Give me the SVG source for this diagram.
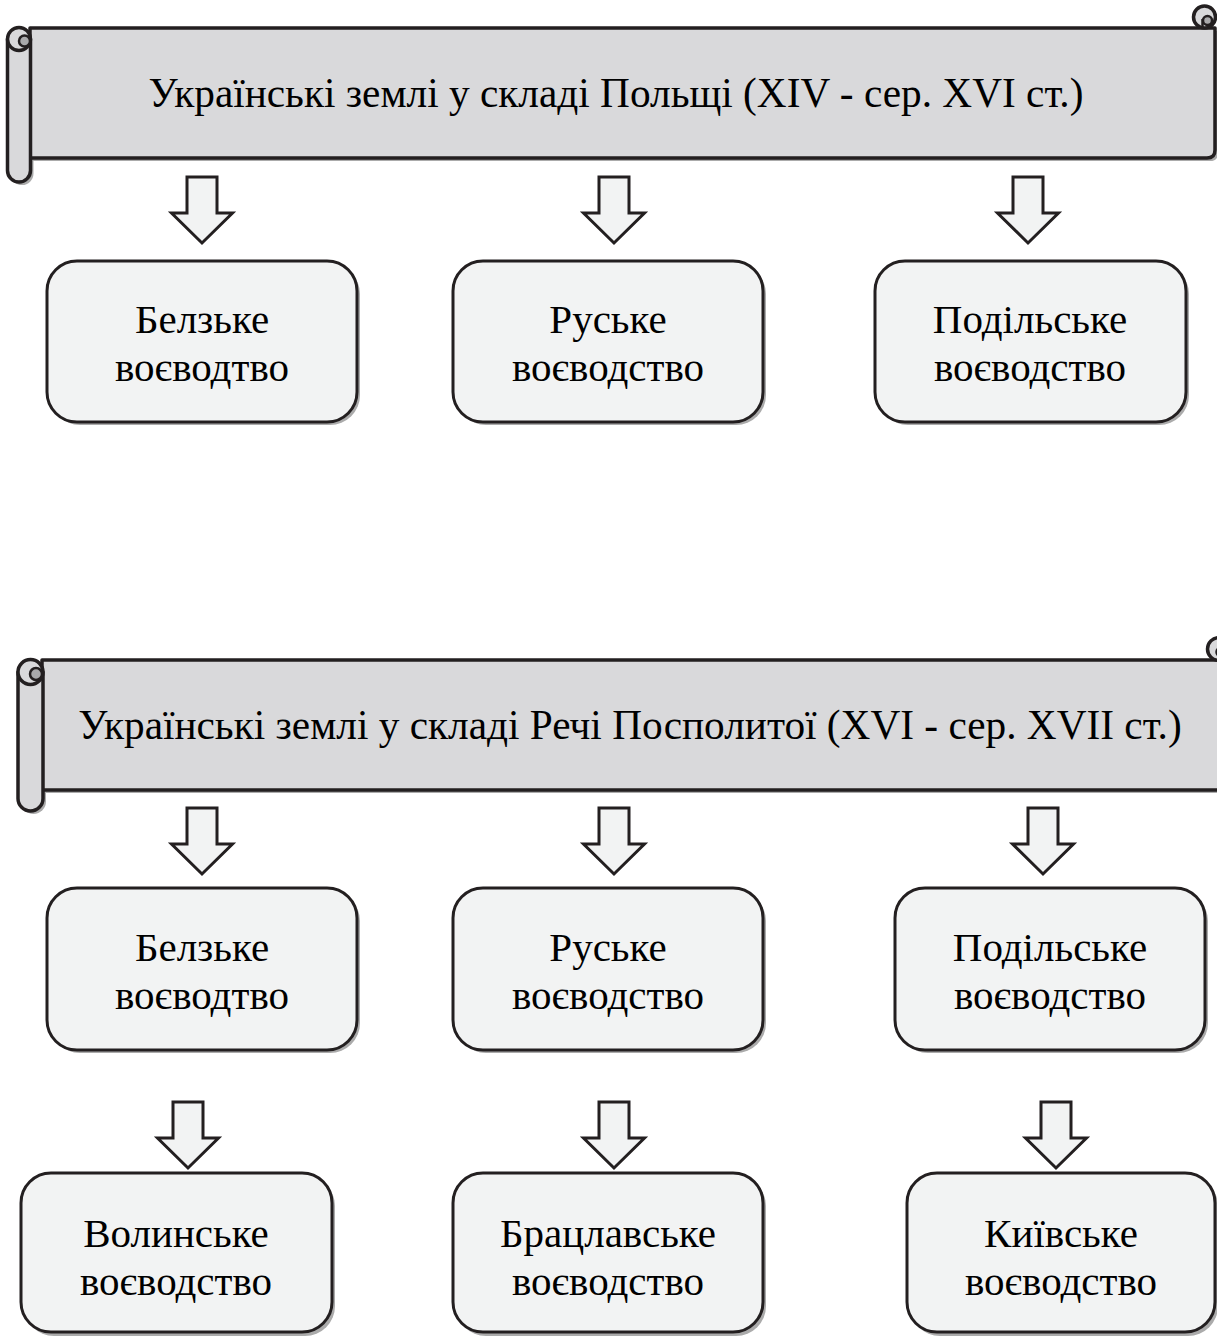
<svg xmlns="http://www.w3.org/2000/svg" xmlns:xlink="http://www.w3.org/1999/xlink" width="1217" height="1336" viewBox="0 0 1217 1336">
<style>
.box{fill:#f2f3f3;stroke:#231f20;stroke-width:3}
.shadow{fill:#ababab;stroke:none}
.arrow{fill:#f2f3f3;stroke:#231f20;stroke-width:3;stroke-linejoin:miter}
.scroll{fill:#d9d9db;stroke:#231f20;stroke-width:3.5;stroke-linejoin:round}
.inner{fill:#a9a9ab;stroke:#231f20;stroke-width:2.5}
.t{font-family:"Liberation Serif","Times New Roman",serif;font-size:41px;text-anchor:middle;fill:#000}
.h{font-size:41.3px}
</style>
<defs>
<path id="arr" class="arrow" d="M-15,0 H15 V36 H30.5 L0,66 L-30.5,36 H-15 Z"/>
</defs>
<rect x="0" y="0" width="1217" height="1336" fill="#ffffff"/>

<g id="scroll1">
<path class="shadow" d="M33,31 H1218 V153 Q1218,161 1210,161 H33 Z"/>
<path class="shadow" d="M10.5,42 V173.5 A11.5,11.5 0 0 0 33.5,173.5 V42 Z"/>
<path class="scroll" d="M30,28 H1215 V150 Q1215,158 1207,158 H30 Z"/>
<circle class="scroll" cx="1204.5" cy="17" r="11"/>
<circle class="inner" cx="1207.5" cy="20.5" r="4.5"/>
<line x1="1202.5" y1="19" x2="1202.5" y2="28" stroke="#231f20" stroke-width="2.5"/>
<path class="scroll" d="M7.5,39 V170.5 A11.5,11.5 0 0 0 30.5,170.5 V39 Z"/>
<circle class="scroll" cx="19" cy="39" r="11.5"/>
<circle class="inner" cx="24.5" cy="41" r="5.5"/>
<text class="t h" x="616" y="107">Українські землі у складі Польщі (XIV - сер. XVI ст.)</text>
</g>

<g id="scroll2">
<path class="shadow" d="M46,663 H1230 V793 H46 Z"/>
<path class="shadow" d="M21,675 V801.5 A12.5,12.5 0 0 0 46,801.5 V675 Z"/>
<path class="scroll" d="M42,660 H1232 V790 H42 Z"/>
<circle class="scroll" cx="1219" cy="649" r="11.5"/>
<circle class="inner" cx="1221" cy="652" r="4.5"/>
<path class="scroll" d="M18,672 V798.5 A12.5,12.5 0 0 0 43,798.5 V672 Z"/>
<circle class="scroll" cx="30.5" cy="672" r="12.5"/>
<circle class="inner" cx="36" cy="674" r="6"/>
<text class="t h" x="630" y="739">Українські землі у складі Речі Посполитої (XVI - сер. XVII ст.)</text>
</g>

<g id="connectors">
<use xlink:href="#arr" href="#arr" x="202" y="177"/>
<use xlink:href="#arr" href="#arr" x="614" y="177"/>
<use xlink:href="#arr" href="#arr" x="1028" y="177"/>
<use xlink:href="#arr" href="#arr" x="202" y="808"/>
<use xlink:href="#arr" href="#arr" x="614" y="808"/>
<use xlink:href="#arr" href="#arr" x="1043" y="808"/>
<use xlink:href="#arr" href="#arr" x="188" y="1102"/>
<use xlink:href="#arr" href="#arr" x="614" y="1102"/>
<use xlink:href="#arr" href="#arr" x="1056" y="1102"/>
</g>

<g id="n1">
<rect class="shadow" x="50" y="264" width="310" height="161" rx="30"/>
<rect class="box" x="47" y="261" width="310" height="161" rx="30"/>
<text class="t" x="202" y="333">Белзьке</text>
<text class="t" x="202" y="381">воєводтво</text>
</g>
<g id="n2">
<rect class="shadow" x="456" y="264" width="310" height="161" rx="30"/>
<rect class="box" x="453" y="261" width="310" height="161" rx="30"/>
<text class="t" x="608" y="333">Руське</text>
<text class="t" x="608" y="381">воєводство</text>
</g>
<g id="n3">
<rect class="shadow" x="878" y="264" width="311" height="161" rx="30"/>
<rect class="box" x="875" y="261" width="311" height="161" rx="30"/>
<text class="t" x="1030" y="333">Подільське</text>
<text class="t" x="1030" y="381">воєводство</text>
</g>

<g id="n4">
<rect class="shadow" x="50" y="891" width="310" height="162" rx="30"/>
<rect class="box" x="47" y="888" width="310" height="162" rx="30"/>
<text class="t" x="202" y="961">Белзьке</text>
<text class="t" x="202" y="1009">воєводтво</text>
</g>
<g id="n5">
<rect class="shadow" x="456" y="891" width="310" height="162" rx="30"/>
<rect class="box" x="453" y="888" width="310" height="162" rx="30"/>
<text class="t" x="608" y="961">Руське</text>
<text class="t" x="608" y="1009">воєводство</text>
</g>
<g id="n6">
<rect class="shadow" x="898" y="891" width="310" height="162" rx="30"/>
<rect class="box" x="895" y="888" width="310" height="162" rx="30"/>
<text class="t" x="1050" y="961">Подільське</text>
<text class="t" x="1050" y="1009">воєводство</text>
</g>

<g id="n7">
<rect class="shadow" x="24" y="1176" width="311" height="160" rx="30"/>
<rect class="box" x="21" y="1173" width="311" height="159" rx="30"/>
<text class="t" x="176" y="1247">Волинське</text>
<text class="t" x="176" y="1295">воєводство</text>
</g>
<g id="n8">
<rect class="shadow" x="456" y="1176" width="310" height="160" rx="30"/>
<rect class="box" x="453" y="1173" width="310" height="159" rx="30"/>
<text class="t" x="608" y="1247">Брацлавське</text>
<text class="t" x="608" y="1295">воєводство</text>
</g>
<g id="n9">
<rect class="shadow" x="910" y="1176" width="308" height="160" rx="30"/>
<rect class="box" x="907" y="1173" width="308" height="159" rx="30"/>
<text class="t" x="1061" y="1247">Київське</text>
<text class="t" x="1061" y="1295">воєводство</text>
</g>
</svg>
